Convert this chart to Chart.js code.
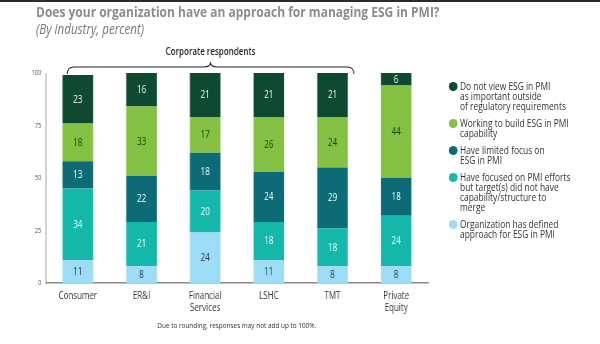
<!DOCTYPE html>
<html>
<head>
<meta charset="utf-8">
<script src="https://cdn.jsdelivr.net/npm/chart.js@4.4.0/dist/chart.umd.min.js"></script>
<style>
  html, body { margin: 0; padding: 0; background: #fff; overflow: hidden; }
  /* the layout is built 750px wide and squeezed horizontally to 600 */
  #page { position: absolute; left: 0; top: 0; width: 750px; height: 344px; transform: scaleX(0.8); transform-origin: 0 0; font-family: 'Open Sans', sans-serif; }
  #topline { position: absolute; left: 0; top: 0; width: 750px; height: 2px; background: #2b2b2b; }
  #title { position: absolute; left: 45px; top: 1px; font-size: 15px; font-weight: 700; color: #8c8c8c; white-space: nowrap; }
  #subtitle { position: absolute; left: 45px; top: 19px; font-size: 14.5px; font-style: italic; color: #777; white-space: nowrap; }
  #chart { position: absolute; left: 0; top: 0; }
  #legend { position: absolute; left: 561px; top: 81px; list-style: none; margin: 0; padding: 0; }
  #legend li { position: relative; padding-left: 14px; font-size: 10.5px; line-height: 10px; color: #333; margin-bottom: 7px; white-space: nowrap; }
  #legend .dot { position: absolute; left: 0; top: 0.5px; width: 11px; height: 9px; border-radius: 50%; }
  #note { position: absolute; left: 0; width: 592px; top: 319px; text-align: center; font-size: 8px; color: #333; }
</style>
</head>
<body>
<div id="page">
  <div id="topline"></div>
  <div id="title">Does your organization have an approach for managing ESG in PMI?</div>
  <div id="subtitle">(By industry, percent)</div>
  <canvas id="chart" width="750" height="344"></canvas>
  <ul id="legend"></ul>
  <div id="note">Due to rounding, responses may not add up to 100%.</div>
</div>
<script>
// industries along the x axis
const categories = ['Consumer', 'ER&I', ['Financial', 'Services'], 'LSHC', 'TMT', ['Private', 'Equity']];

// shares per answer, stacked from the bottom up
const definedApproach    = [11, 8, 24, 11, 8, 8];
const focusedNoCapacity  = [34, 21, 20, 18, 18, 24];
const limitedFocus       = [13, 22, 18, 24, 29, 18];
const buildingCapability = [18, 33, 17, 26, 24, 44];
const notImportant       = [23, 16, 21, 21, 21, 6];

const seriesNames = [
  ['Organization has defined', 'approach for ESG in PMI'],
  ['Have focused on PMI efforts', 'but target(s) did not have', 'capability/structure to', 'merge'],
  ['Have limited focus on', 'ESG in PMI'],
  ['Working to build ESG in PMI', 'capability'],
  ['Do not view ESG in PMI', 'as important outside', 'of regulatory requirements']
];

const yTicks = [0, 25, 50, 75, 100];

const colors = ['#9ddcf7', '#14b8ab', '#0c6b76', '#84c142', '#0d4a30'];
const labelColors = ['#1f3340', '#ffffff', '#ffffff', '#1e3a14', '#ffffff'];

// number in the middle of each segment
const segmentLabels = {
  id: 'segmentLabels',
  afterDatasetsDraw(chart) {
    const ctx = chart.ctx;
    ctx.save();
    ctx.font = '10px "Open Sans"';
    ctx.textAlign = 'center';
    ctx.textBaseline = 'middle';
    chart.data.datasets.forEach((ds, i) => {
      chart.getDatasetMeta(i).data.forEach((bar, j) => {
        const p = bar.getProps(['x', 'y', 'base'], true);
        ctx.fillStyle = labelColors[i];
        ctx.fillText(ds.data[j], p.x, (p.y + p.base) / 2 + 0.5);
      });
    });
    ctx.restore();
  }
};

// curly bracket over the corporate industries
const corporateBracket = {
  id: 'corporateBracket',
  afterDraw(chart) {
    const x = chart.scales.x;
    const bw = chart.getDatasetMeta(0).data[0].width;
    const left = x.getPixelForValue(0) - bw / 2 + 6;
    const right = x.getPixelForValue(4) + bw / 2 + 7.5;
    const mid = (left + right) / 2;
    const y = 67;
    const ctx = chart.ctx;
    ctx.save();
    ctx.strokeStyle = '#222';
    ctx.lineWidth = 1.2;
    ctx.beginPath();
    ctx.moveTo(left, y + 7);
    ctx.quadraticCurveTo(left, y, left + 8, y);
    ctx.lineTo(mid - 8, y);
    ctx.quadraticCurveTo(mid, y, mid, y - 5);
    ctx.quadraticCurveTo(mid, y, mid + 8, y);
    ctx.lineTo(right - 8, y);
    ctx.quadraticCurveTo(right, y, right, y + 7);
    ctx.stroke();
    ctx.fillStyle = '#222';
    ctx.font = '600 10px "Open Sans"';
    ctx.textAlign = 'center';
    ctx.textBaseline = 'middle';
    ctx.fillText('Corporate respondents', mid, 52);
    ctx.restore();
  }
};

const seriesData = [definedApproach, focusedNoCapacity, limitedFocus, buildingCapability, notImportant];

const chart = new Chart(document.getElementById('chart'), {
  type: 'bar',
  data: {
    labels: categories,
    datasets: seriesData.map((d, i) => ({
      label: seriesNames[i],
      data: d,
      backgroundColor: colors[i],
      borderWidth: 0,
      barPercentage: 0.48,
      categoryPercentage: 1
    }))
  },
  options: {
    responsive: false,
    animation: false,
    layout: { padding: { left: 33.5, right: 215, top: 73, bottom: 21 } },
    plugins: { legend: { display: false }, tooltip: { enabled: false } },
    scales: {
      x: {
        stacked: true,
        grid: { display: false, drawTicks: false },
        border: { color: '#8a8a8a', width: 1.5 },
        ticks: { color: '#333', font: { family: 'Open Sans', size: 10 }, padding: 7, maxRotation: 0 },
        afterFit(scale) { scale.height = 40; }
      },
      y: {
        stacked: true,
        min: 0,
        max: 100,
        grid: { display: false, drawTicks: false },
        border: { color: '#8a8a8a', width: 1 },
        afterBuildTicks(scale) { scale.ticks = yTicks.map(v => ({ value: v })); },
        ticks: { color: '#555', font: { family: 'Open Sans', size: 7 }, padding: 6 },
        afterFit(scale) { scale.width = 24; }
      }
    }
  },
  plugins: [segmentLabels, corporateBracket]
});

// legend, top series first
const legend = document.getElementById('legend');
chart.data.datasets.slice().reverse().forEach(ds => {
  const li = document.createElement('li');
  const dot = document.createElement('span');
  dot.className = 'dot';
  dot.style.background = ds.backgroundColor;
  li.appendChild(dot);
  ds.label.forEach((line, k) => {
    if (k) li.appendChild(document.createElement('br'));
    li.appendChild(document.createTextNode(line));
  });
  legend.appendChild(li);
});
</script>
</body>
</html>
